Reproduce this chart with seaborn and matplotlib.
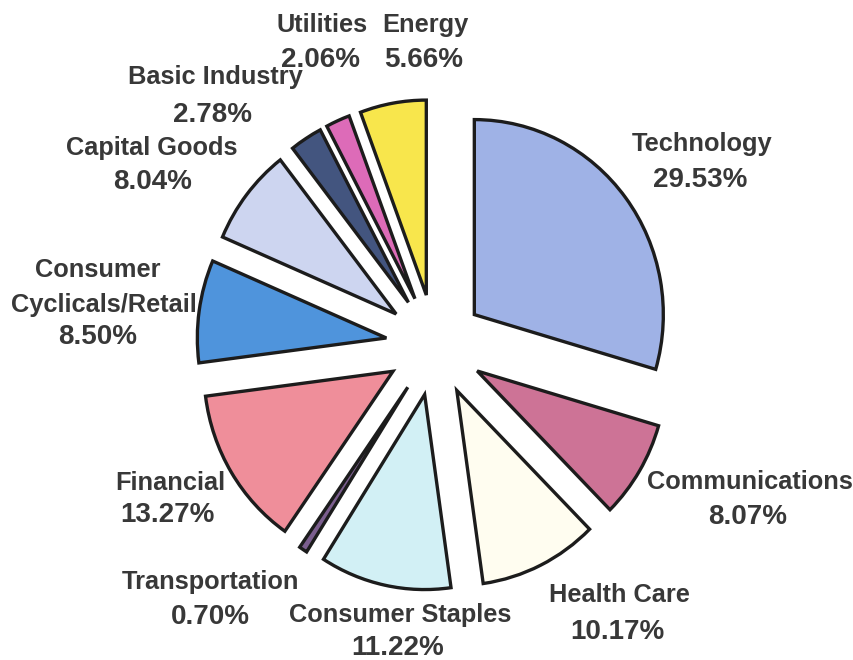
import matplotlib
matplotlib.use("Agg")
import matplotlib.pyplot as plt
import seaborn as sns

# Sector weights, clockwise from 12 o'clock
sectors = ["Technology", "Communications", "Health Care", "Consumer Staples",
           "Transportation", "Financial", "Consumer\nCyclicals/Retail",
           "Capital Goods", "Basic Industry", "Utilities", "Energy"]
weights = [29.53, 8.07, 10.17, 11.22, 0.70, 13.27, 8.50, 8.04, 2.78, 2.06, 5.66]
colors = ["#9FB2E6", "#CD7396", "#FFFDF0", "#D2F0F5", "#7B5E8E", "#EF8E9A",
          "#4F94DC", "#CDD5F0", "#43557F", "#DD6BB8", "#F8E64C"]

# Label anchor points (pixels from top-left): name line centre, percent line centre
name_pos = [(702, 144), (750, 482), (619, 595), (400, 615), (211, 582),
            (170, 483), (100, 288), (152, 148), (215, 77), (322, 25), (425, 25)]
pct_pos = [(700, 180), (748, 517), (617, 632), (398, 648), (210, 617),
           (167, 515), (98, 337), (153, 182), (213, 115), (321, 60), (424, 60)]

sns.set_theme(style="white")
plt.rcParams["font.family"] = ["Liberation Sans", "DejaVu Sans"]

W, H = 854, 660
fig = plt.figure(figsize=(W / 100, H / 100), dpi=100)
fig.patch.set_facecolor("white")
ax = fig.add_axes([0, 0, 1, 1])

cx, cy = 435, 345          # pie centre in pixels
sx, sy = 189, 195          # pixels per unit radius (x, y)

ax.pie(weights, colors=colors, startangle=90, counterclock=False,
       radius=1.0, explode=[0.26] * len(weights),
       wedgeprops=dict(edgecolor="#1c1c1c", linewidth=2.4, joinstyle="miter"))
ax.set_aspect("auto")
ax.set_xlim(-cx / sx, (W - cx) / sx)
ax.set_ylim(-(H - cy) / sy, cy / sy)
ax.axis("off")

txt_color = "#383838"
name_size, pct_size = 18.3, 20
for name, w, (nx, ny), (px, py) in zip(sectors, weights, name_pos, pct_pos):
    if "\n" in name:
        first, second = name.split("\n")
        ax.text(98 / W, 1 - 270 / H, first, transform=ax.transAxes,
                ha="center", va="center", fontsize=name_size, fontweight="bold",
                color=txt_color)
        ax.text(104 / W, 1 - 305 / H, second, transform=ax.transAxes,
                ha="center", va="center", fontsize=name_size, fontweight="bold",
                color=txt_color)
    else:
        ax.text(nx / W, 1 - ny / H, name, transform=ax.transAxes,
                ha="center", va="center", fontsize=name_size, fontweight="bold",
                color=txt_color)
    ax.text(px / W, 1 - py / H, f"{w:.2f}%", transform=ax.transAxes,
            ha="center", va="center", fontsize=pct_size, fontweight="bold",
            color=txt_color)

fig.savefig("out.png", dpi=100, facecolor="white")
